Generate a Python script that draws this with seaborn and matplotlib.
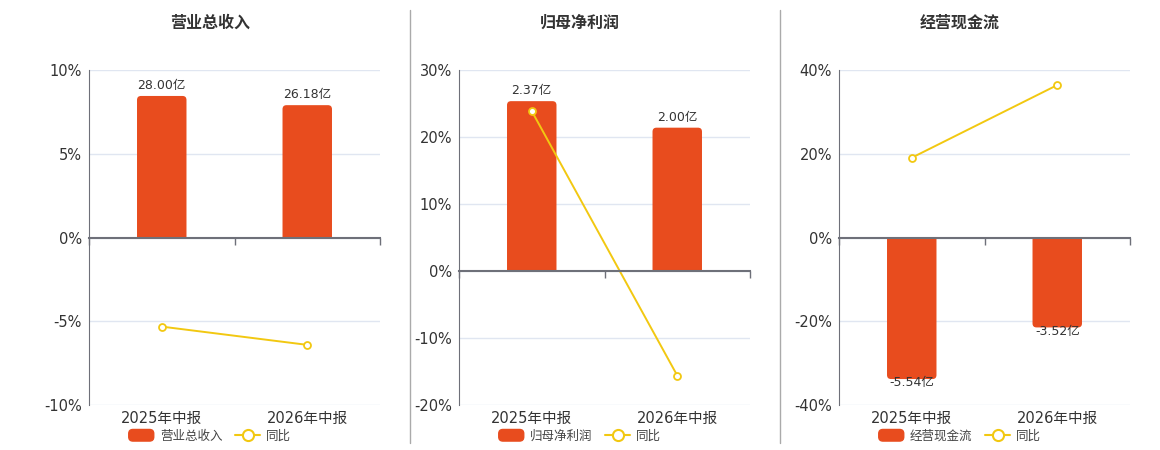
import numpy as np
import matplotlib
matplotlib.use("Agg")
import matplotlib.pyplot as plt
from matplotlib.lines import Line2D
from matplotlib.patches import Patch, PathPatch, FancyBboxPatch
from matplotlib.path import Path
from matplotlib.legend_handler import HandlerPatch
from matplotlib.ticker import FuncFormatter
import seaborn as sns

# data
categories = ["2025年中报", "2026年中报"]
titles = ["营业总收入", "归母净利润", "经营现金流"]
revenue = [28.00, 26.18]
revenue_yoy = [-5.32, -6.41]
profit = [2.37, 2.00]
profit_yoy = [23.87, -15.6]
cashflow = [-5.54, -3.52]
cashflow_yoy = [19.05, 36.4]
y_ranges = [(-10, 10, 5), (-20, 30, 10), (-40, 40, 20)]

sns.set_style("white")
plt.rcParams["font.family"] = ["DejaVu Sans", "Noto Sans CJK SC"]

BAR = "#E84C1E"
LINE = "#F2C811"
AXIS = "#6E7079"
GRID = "#E0E6F1"
TXT = "#333333"

fig = plt.figure(figsize=(11.6, 4.5), dpi=100)
W, H = 1160, 450
ax_lefts = [89, 459, 839]
centers = [210, 580, 960]
ax_w, ax_h = 291, 335

bars_all = [revenue, profit, cashflow]
yoy_all = [revenue_yoy, profit_yoy, cashflow_yoy]
n = len(categories)
pos = np.arange(n)


def rounded_legend_patch(legend, orig_handle, xdescent, ydescent, width, height, fontsize):
    return FancyBboxPatch((-xdescent, -ydescent), width, height,
                          boxstyle="round,pad=0,rounding_size=3")


def round_bar_ends(ax, radius_px, ypx_units):
    # replace each bar with a path whose free end has rounded corners
    xpx = (ax.get_xlim()[1] - ax.get_xlim()[0]) / ax_w
    rx, ry = radius_px * xpx, radius_px * ypx_units
    for p in list(ax.patches):
        x0, w, y0, h = p.get_x(), p.get_width(), p.get_y(), p.get_height()
        x1, top, sg = x0 + w, y0 + h, np.sign(h)
        verts = [(x0, y0), (x0, top - sg * ry), (x0, top), (x0 + rx, top),
                 (x1 - rx, top), (x1, top), (x1, top - sg * ry), (x1, y0), (x0, y0)]
        codes = [Path.MOVETO, Path.LINETO, Path.CURVE3, Path.CURVE3, Path.LINETO,
                 Path.CURVE3, Path.CURVE3, Path.LINETO, Path.CLOSEPOLY]
        ax.add_patch(PathPatch(Path(verts, codes), facecolor=p.get_facecolor(),
                               edgecolor="none"))
        p.set_visible(False)


for i, (title, bars, yoy, (lo, hi, step)) in enumerate(zip(titles, bars_all, yoy_all, y_ranges)):
    ax = fig.add_axes([ax_lefts[i] / W, 1 - 405 / H, ax_w / W, ax_h / H])

    # bars on a twin axis whose zero is aligned with the percent axis
    ax2 = ax.twinx()
    sns.barplot(x=categories, y=bars, ax=ax2, color=BAR, width=0.34, saturation=1)
    k = max(abs(v) for v in bars) / (0.845 * max(abs(lo), abs(hi)))
    ax2.set_ylim(lo * k, hi * k)
    ax2.set_xlim(-0.5, n - 0.5)
    ax2.set_yticks([])
    ax2.set_ylabel("")
    for s in ax2.spines.values():
        s.set_visible(False)
    pad = 3 if min(bars) >= 0 else -2
    for c in ax2.containers:
        ax2.bar_label(c, labels=[f"{v:.2f}亿" for v in bars], padding=pad,
                      fontsize=9, color=TXT)
    round_bar_ends(ax2, 4, (hi - lo) * k / ax_h)

    # yoy line on top
    ax3 = ax.twinx()
    sns.lineplot(x=pos, y=yoy, ax=ax3, color=LINE, lw=1.4, marker="o",
                 markersize=5, markerfacecolor="white", markeredgecolor=LINE,
                 markeredgewidth=1.3)
    ax3.set_ylim(lo, hi)
    ax3.set_yticks([])
    ax3.set_ylabel("")
    for name, s in ax3.spines.items():
        s.set_visible(name == "bottom")
    ax3.spines["bottom"].set_position(("data", 0))
    ax3.spines["bottom"].set_color(AXIS)
    ax3.spines["bottom"].set_linewidth(1.5)
    ax3.xaxis.set_visible(True)

    # percent axis: grid and ticks
    ax.set_ylim(lo, hi)
    ax.set_yticks(np.arange(lo, hi + 1, step))
    ax.yaxis.set_major_formatter(FuncFormatter(lambda v, p: f"{v:g}%"))
    ax.grid(axis="y", color=GRID, lw=1)
    ax.set_axisbelow(True)
    for name, s in ax.spines.items():
        s.set_visible(name == "left")
    ax.spines["left"].set_color(AXIS)
    ax.tick_params(axis="y", length=0, pad=5, labelsize=10.5, labelcolor=TXT)

    ax.set_xlim(-0.5, n - 0.5)
    ax.set_xticks(pos, categories)
    ax.set_xticks(np.arange(n + 1) - 0.5, minor=True)
    ax.tick_params(axis="x", which="both", length=0, labelsize=10.5,
                   labelcolor=TXT, pad=4)
    ax3.tick_params(axis="x", which="major", length=0, labelbottom=False)
    ax3.tick_params(axis="x", which="minor", bottom=True, direction="out",
                    length=5, color=AXIS, width=1)
    ax.set_xlabel("")

    cx = centers[i] / W
    fig.text(cx, 1 - 23 / H, title, ha="center", va="center", fontsize=11.5,
             fontweight="bold", color=TXT)
    handles = [
        Patch(facecolor=BAR, edgecolor=BAR, label=title),
        Line2D([], [], color=LINE, lw=1.5, marker="o", markersize=8,
               markerfacecolor="white", markeredgewidth=1.5, label="同比"),
    ]
    fig.legend(handles=handles, loc="center", bbox_to_anchor=(cx, 1 - 436 / H),
               ncol=2, frameon=False, fontsize=9, handlelength=2.0,
               handleheight=1.05, columnspacing=1.0, handletextpad=0.5,
               labelcolor="#444444",
               handler_map={Patch: HandlerPatch(patch_func=rounded_legend_patch)})

for x in (410, 780):
    fig.add_artist(Line2D([x / W, x / W], [1 - 443 / H, 1 - 10 / H],
                          transform=fig.transFigure, color="#AAAAAA", lw=1))

fig.savefig("out.png", dpi=100)
